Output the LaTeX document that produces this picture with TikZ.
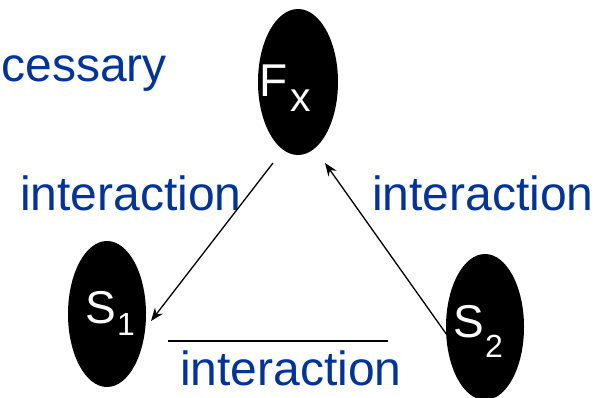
\documentclass[tikz,border=0pt]{standalone}
\usepackage{fontspec}
\setmainfont{Liberation Sans}
\usetikzlibrary{shapes.geometric,arrows.meta}
\definecolor{txtblue}{RGB}{0,51,160}
\begin{document}
\begin{tikzpicture}[x=1pt,y=-1pt,
  blob/.style={ellipse,fill=black,draw=none,inner sep=0pt,minimum width=78pt,minimum height=146pt},
  lbl/.style={text=txtblue,inner sep=0pt,font=\fontsize{48}{48}\selectfont},
  big/.style={text=white,inner sep=0pt,font=\fontsize{46}{46}\selectfont},
  small/.style={text=white,inner sep=0pt,font=\fontsize{32}{32}\selectfont},
  arr/.style={-{Stealth[length=13pt,width=10pt]},line width=1.3pt,black},
  plain/.style={line width=2pt,black}]
\useasboundingbox (0,0) rectangle (599,398);
\node[blob,minimum width=80pt] (Fx) at (298,82) {};
\node[blob] (S1) at (107,314) {};
\node[blob] (S2) at (485,327) {};
\node[big,anchor=base west] (Ftxt) at (259.5,97) {F};
\node[inner sep=0pt,text=white,font=\fontsize{41}{41}\selectfont,anchor=base west] (xtxt) at (290,112) {x};
\node[big,anchor=base west] (S1txt) at (85,323) {S};
\node[small,anchor=base west] (onetxt) at (117,335) {1};
\node[big,anchor=base west] (S2txt) at (453,337) {S};
\node[small,anchor=base west] (twotxt) at (485,357) {2};
\node[lbl,anchor=base east] (nec) at (167,82) {cessary};
\node[lbl,anchor=base west] (intL) at (20,210) {interaction};
\node[lbl,anchor=base west] (intR) at (372,210) {interaction};
\node[lbl,anchor=base west] (intB) at (180,385) {interaction};
\coordinate (a1) at (273,163);
\coordinate (a2) at (151,321);
\coordinate (b1) at (447,335);
\coordinate (b2) at (325,163);
\coordinate (l1) at (168,341);
\coordinate (l2) at (388,341);
\draw[arr] (a1) -- (a2);
\draw[arr] (b1) -- (b2);
\draw[plain] (l1) -- (l2);
\end{tikzpicture}
\end{document}
